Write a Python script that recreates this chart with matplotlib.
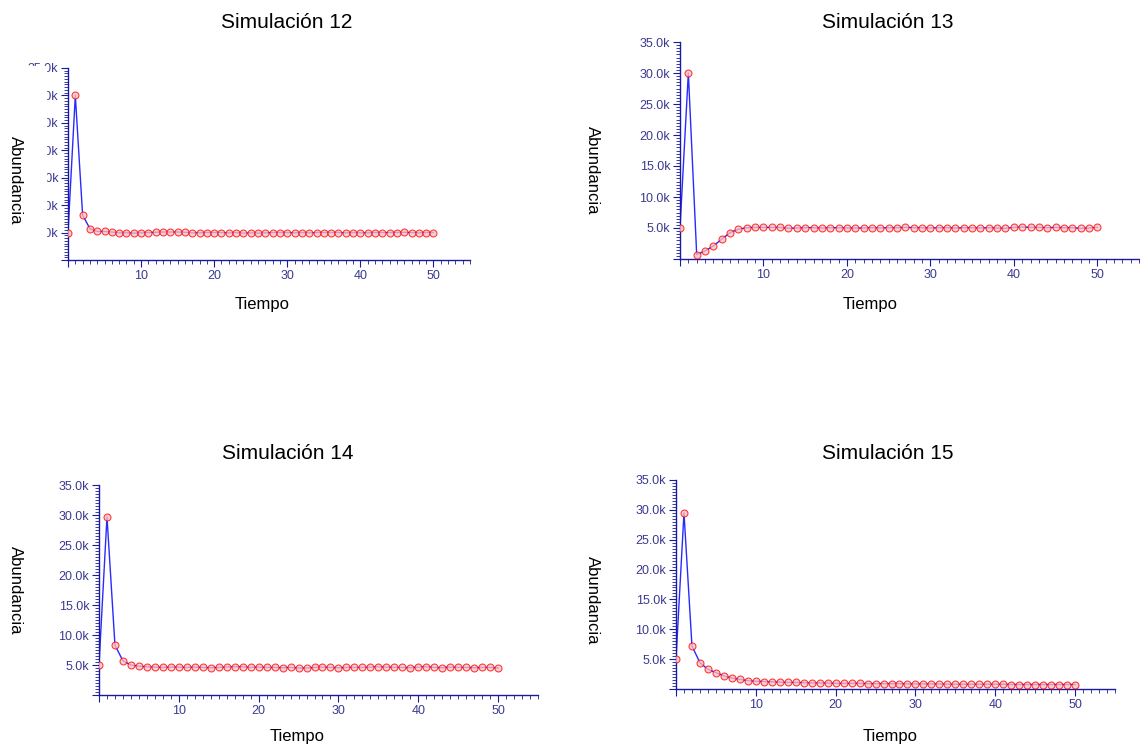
import numpy as np
import matplotlib.pyplot as plt
from matplotlib.ticker import MultipleLocator, FuncFormatter
from matplotlib.patches import Rectangle

# time steps 0..50
tiempo = list(range(51))

sim12 = [5000, 30000, 8200, 5700, 5200, 5200, 5100, 4950, 4950, 4900,
         4950, 5000, 5050, 5100, 5100, 5100, 5050, 4950, 4950, 5000,
         5000, 5000, 4950, 5000, 4900, 4950, 4900, 4950, 5000, 5000,
         5000, 4950, 5000, 4950, 5000, 5000, 5000, 5000, 4950, 5000,
         4950, 4950, 5000, 5000, 5000, 5000, 5050, 5000, 4950, 5000,
         5000]

sim13 = [5000, 30000, 700, 1300, 2100, 3200, 4250, 4800, 5050, 5100,
         5100, 5100, 5100, 4950, 5000, 5050, 5050, 5000, 5050, 5050,
         5000, 5000, 5000, 5050, 5000, 5050, 5050, 5100, 5050, 5050,
         5000, 5050, 5050, 5000, 5050, 5050, 5000, 5050, 5000, 4950,
         5100, 5150, 5100, 5100, 5050, 5100, 5050, 5050, 4950, 5000,
         5100]

sim14 = [5000, 29700, 8300, 5700, 5000, 4800, 4700, 4650, 4600, 4650,
         4650, 4600, 4650, 4600, 4550, 4600, 4650, 4700, 4700, 4600,
         4650, 4600, 4600, 4550, 4600, 4500, 4500, 4600, 4650, 4600,
         4550, 4600, 4600, 4600, 4650, 4700, 4650, 4600, 4600, 4550,
         4650, 4700, 4600, 4550, 4650, 4600, 4600, 4550, 4600, 4600,
         4500]

sim15 = [5000, 29500, 7200, 4400, 3300, 2750, 2200, 1850, 1600, 1400,
         1300, 1250, 1200, 1150, 1100, 1100, 1050, 1000, 1000, 1000,
         950, 950, 950, 950, 900, 900, 900, 900, 900, 850,
         850, 850, 850, 850, 800, 800, 800, 800, 800, 800,
         800, 800, 750, 750, 750, 750, 750, 750, 750, 750,
         750]

titulos = ['Simulación 12', 'Simulación 13', 'Simulación 14', 'Simulación 15']
series = [sim12, sim13, sim14, sim15]

W, H = 1140, 751
fig = plt.figure(figsize=(W / 100, H / 100), dpi=100)
plt.rcParams['font.family'] = ['Liberation Sans', 'DejaVu Sans']

def px(l, t, r, b):
    return [l / W, (H - b) / H, (r - l) / W, (b - t) / H]

# axes boxes in pixels: left, top, right, bottom
cajas = [(68, 68, 470, 260), (680, 42, 1139, 259),
         (99, 485, 538, 695), (676, 480, 1115, 689)]
# title, xlabel, ylabel positions in pixels
pos_tit = [(287, 22), (888, 22), (288, 453), (888, 453)]
pos_xl = [(262, 305), (870, 305), (297, 737), (890, 737)]
pos_yl = [(15, 180), (592, 170), (15, 590), (592, 600)]

azul = '#1a1aa0'
txt_azul = '#3a3a90'

fmt = FuncFormatter(lambda v, p: '' if v == 0 else '%.1fk' % (v / 1000))

for i in range(4):
    ax = fig.add_axes(px(*cajas[i]))
    ax.plot(tiempo, series[i], '-', color='#2a2aff', lw=1, zorder=2)
    ax.plot(tiempo, series[i], 'o', ms=5, mfc='#ffc0c0', mec='red',
            mew=0.8, alpha=0.75, zorder=3)
    ax.set_xlim(0, 55)
    ax.set_ylim(0, 35000)
    ax.xaxis.set_major_locator(MultipleLocator(10))
    ax.xaxis.set_minor_locator(MultipleLocator(1))
    ax.yaxis.set_major_locator(MultipleLocator(5000))
    ax.yaxis.set_minor_locator(MultipleLocator(500))
    ax.yaxis.set_major_formatter(fmt)
    ax.xaxis.set_major_formatter(FuncFormatter(lambda v, p: '' if v == 0 else '%d' % v))
    for s in ['top', 'right']:
        ax.spines[s].set_visible(False)
    for s in ['left', 'bottom']:
        ax.spines[s].set_color(azul)
        ax.spines[s].set_linewidth(1)
    ax.tick_params(which='major', length=5, color=azul, labelcolor=txt_azul,
                   labelsize=9, pad=2)
    ax.tick_params(which='minor', length=3, color=azul)
    ax.patch.set_visible(False)

    fig.text(pos_tit[i][0] / W, 1 - pos_tit[i][1] / H, titulos[i],
             ha='center', va='center', fontsize=15)
    fig.text(pos_xl[i][0] / W, 1 - pos_xl[i][1] / H, 'Tiempo',
             ha='center', va='center', fontsize=12)
    if i == 0:
        # left part of the first panel's tick labels is hidden
        fig.patches.append(Rectangle((0, (H - 265) / H), 46 / W, 199 / H,
                                     transform=fig.transFigure, color='white',
                                     zorder=5))
    fig.text(pos_yl[i][0] / W, 1 - pos_yl[i][1] / H, 'Abundancia',
             ha='center', va='center', rotation=270, fontsize=12, zorder=6)

fig.savefig('out.png', dpi=100)
